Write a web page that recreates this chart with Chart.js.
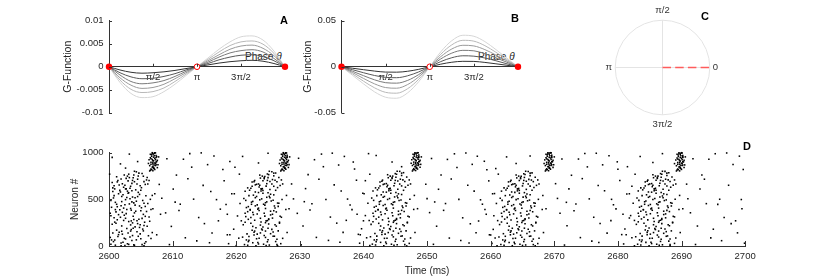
<!DOCTYPE html>
<html>
<head>
<meta charset="utf-8">
<script src="https://cdn.jsdelivr.net/npm/chart.js@4.4.0/dist/chart.umd.min.js"></script>
<style>
  body { margin: 0; background: #fff; width: 830px; height: 277px; position: relative; overflow: hidden;
         font-family: 'Liberation Sans', Arial, sans-serif; }
  canvas, .txt { position: absolute; }
  .txt { color: #262626; white-space: nowrap; line-height: 1; }
  .letter { font-weight: bold; font-size: 11px; color: #000; transform: translate(-50%, -50%); }
  .phase { font-size: 10px; transform: translateY(-50%); }
</style>
</head>
<body>
<div class="txt phase" style="left:245px;top:57px">Phase <i>θ</i></div>
<div class="txt phase" style="left:478px;top:57px">Phase <i>θ</i></div>

<canvas id="chartA" width="240" height="116" style="left:55px;top:8px"></canvas>
<canvas id="chartB" width="233" height="116" style="left:295px;top:8px"></canvas>
<canvas id="chartC" width="129" height="129" style="left:598px;top:3px"></canvas>
<canvas id="chartD" width="705" height="137" style="left:55px;top:140px"></canvas>

<div class="txt letter" style="left:284px;top:20px">A</div>
<div class="txt letter" style="left:515px;top:18px">B</div>
<div class="txt letter" style="left:705px;top:16px">C</div>
<div class="txt letter" style="left:747px;top:146px">D</div>

<script>
// ---- panels A/B : G-function curves, sampled every pi/8 ----
const thetaSamples = [0, 0.393, 0.785, 1.178, 1.571, 1.963, 2.356, 2.749, 3.142, 3.534, 3.927, 4.320, 4.712, 5.105, 5.498, 5.890, 6.283];
const phaseTicks = [1.5708, 3.1416, 4.7124];
const phaseTickLabels = ['π/2', 'π', '3π/2'];

// A (lightest -> darkest)
const gA1 = [0, -0.0034, -0.0058, -0.0067, -0.0065, -0.0054, -0.0038, -0.0019, 0, 0.0019, 0.0038, 0.0054, 0.0065, 0.0067, 0.0058, 0.0034, 0];
const gA2 = [0, -0.0029, -0.0049, -0.0056, -0.0054, -0.0046, -0.0032, -0.0016, 0, 0.0016, 0.0032, 0.0046, 0.0054, 0.0056, 0.0049, 0.0029, 0];
const gA3 = [0, -0.0024, -0.0040, -0.0047, -0.0045, -0.0038, -0.0026, -0.0013, 0, 0.0013, 0.0026, 0.0038, 0.0045, 0.0047, 0.0040, 0.0024, 0];
const gA4 = [0, -0.0018, -0.0032, -0.0037, -0.0035, -0.0030, -0.0021, -0.0010, 0, 0.0010, 0.0021, 0.0030, 0.0035, 0.0037, 0.0032, 0.0018, 0];
const gA5 = [0, -0.0013, -0.0022, -0.0026, -0.0025, -0.0021, -0.0015, -0.0007, 0, 0.0007, 0.0015, 0.0021, 0.0025, 0.0026, 0.0022, 0.0013, 0];
const gA6 = [0, -0.0007, -0.0012, -0.0014, -0.0013, -0.0011, -0.0008, -0.0004, 0, 0.0004, 0.0008, 0.0011, 0.0013, 0.0014, 0.0012, 0.0007, 0];
const gTicksA = [-0.01, -0.005, 0, 0.005, 0.01];

// B (lightest -> darkest)
const gB1 = [0, -0.0093, -0.0186, -0.0273, -0.0331, -0.0342, -0.0283, -0.0162, 0, 0.0162, 0.0283, 0.0342, 0.0331, 0.0273, 0.0186, 0.0093, 0];
const gB2 = [0, -0.0078, -0.0157, -0.0229, -0.0278, -0.0287, -0.0238, -0.0136, 0, 0.0136, 0.0238, 0.0287, 0.0278, 0.0229, 0.0157, 0.0078, 0];
const gB3 = [0, -0.0063, -0.0127, -0.0186, -0.0226, -0.0233, -0.0193, -0.0110, 0, 0.0110, 0.0193, 0.0233, 0.0226, 0.0186, 0.0127, 0.0063, 0];
const gB4 = [0, -0.0049, -0.0097, -0.0142, -0.0173, -0.0178, -0.0148, -0.0085, 0, 0.0085, 0.0148, 0.0178, 0.0173, 0.0142, 0.0097, 0.0049, 0];
const gB5 = [0, -0.0032, -0.0065, -0.0095, -0.0115, -0.0119, -0.0098, -0.0056, 0, 0.0056, 0.0098, 0.0119, 0.0115, 0.0095, 0.0065, 0.0032, 0];
const gB6 = [0, -0.0016, -0.0032, -0.0047, -0.0058, -0.0059, -0.0049, -0.0028, 0, 0.0028, 0.0049, 0.0059, 0.0058, 0.0047, 0.0032, 0.0016, 0];
const gTicksB = [-0.05, 0, 0.05];

const stablePhases = [0, 6.2832];
const unstablePhases = [3.1416];

// ---- panel C ----
const lockedPhases = [0];
const polarLabels = ['0', 'π/2', 'π', '3π/2'];
const polarLabelAngles = [0, 1.5708, 3.1416, 4.7124];

// ---- panel D : spikes as [ms after T0, neuron] pairs ----
const T0 = 2600;
const timeTicks = [2600, 2610, 2620, 2630, 2640, 2650, 2660, 2670, 2680, 2690, 2700];
const neuronTicks = [0, 500, 1000];

const burst1 = [0.3,18, 0.9,64, 1.5,122, 2.2,41, 2.8,187, 3.3,96, 3.9,12, 4.4,153, 5.0,77, 5.6,28, 6.2,110, 1.2,170, 4.8,199, 2.5,5, 3.6,58, 0.6,140,
 0.5,233, 1.3,281, 2.0,215, 2.7,347, 3.1,262, 3.8,318, 4.5,240, 5.2,296, 5.9,370, 1.7,389, 4.1,205, 2.4,330, 6.4,265, 0.8,302, 3.5,384, 5.5,220,
 0.4,415, 1.0,468, 1.9,432, 2.6,497, 3.2,451, 3.7,525, 4.3,480, 5.1,410, 5.8,539, 1.5,560, 2.9,588, 4.6,575, 0.7,515, 6.1,455, 3.4,402, 2.2,549,
 0.9,612, 1.6,654, 2.3,630, 3.0,698, 3.6,671, 4.2,602, 4.9,645, 5.5,690, 2.7,725, 1.2,742, 3.9,760, 4.5,716, 5.2,778, 6.0,735, 0.5,680, 3.3,618,
 1.0,9, 1.9,33, 2.6,75, 3.0,139, 3.7,112, 4.3,66, 5.3,181, 0.2,92, 2.0,158, 5.8,45, 4.0,7, 1.4,101, 3.5,176, 6.6,80, 2.9,24, 4.9,130,
 0.9,256, 1.8,308, 2.3,274, 3.4,226, 4.0,355, 4.7,287, 5.4,339, 6.0,212, 1.1,366, 2.8,392, 3.7,248, 5.0,377, 0.3,324, 4.4,270, 2.1,361, 6.3,310,
 1.3,421, 2.0,476, 2.5,443, 3.3,507, 3.9,462, 4.5,530, 5.3,488, 1.7,596, 3.1,571, 4.8,553, 0.6,584, 5.7,424, 2.8,520, 4.1,438, 6.5,500, 3.6,592,
 1.4,701, 2.1,667, 2.6,612, 3.4,640, 4.0,689, 4.6,750, 5.1,625, 5.7,660, 3.1,770, 1.9,718, 4.3,795, 0.8,646, 6.3,702, 2.4,761, 3.8,732, 5.4,748,
 0.7,47, 2.4,83, 3.1,17, 4.6,104, 1.6,148, 5.4,162, 3.8,191, 2.1,127, 0.4,65, 6.8,144, 1.1,243, 3.5,269, 4.9,228, 2.6,297, 5.7,318, 0.2,351,
 3.9,284, 1.5,336, 4.2,373, 6.6,392, 2.3,406, 4.8,429, 1.2,447, 3.6,473, 5.5,459, 0.3,489, 2.0,531, 4.1,518, 6.8,542, 3.0,566, 1.8,579, 5.0,597,
 0.6,623, 2.5,651, 4.4,664, 3.7,703, 1.3,687, 5.9,708, 2.9,749, 4.7,781, 7.5,120, 8.1,340, 7.2,560, 0.1,770, 6.9,400, 5.2,15, 1.9,3, 3.2,733,
 4.0,801, 2.7,612, 3.4,160, 1.0,390, 5.6,255, 0.8,540, 6.1,665];
const cluster1 = [6.5,812, 6.8,845, 7.1,830, 7.4,872, 6.6,898, 6.9,915, 7.2,940, 6.7,962, 7.0,985, 7.3,998, 6.4,861, 7.5,905, 6.9,880, 7.2,820, 6.6,935, 7.0,952, 7.4,970, 6.8,990,
 7.1,868, 6.3,925, 7.6,840, 6.9,808, 7.2,890, 6.7,978, 7.0,913, 7.5,958, 6.5,946, 6.8,1000, 7.3,925, 6.2,885, 7.7,870, 6.9,855, 7.1,995, 6.6,825, 7.4,900,
 6.7,818, 7.0,842, 7.3,887, 6.8,927, 7.1,968, 6.5,983, 7.4,948, 6.9,896, 7.6,918, 7.2,1000, 6.6,876, 7.0,833, 6.4,804, 7.8,955, 7.3,862];

const burst2 = [21.3,15, 22.0,60, 22.8,118, 23.4,37, 24.0,182, 24.6,92, 25.2,10, 25.8,150, 26.4,72, 21.7,130, 23.1,195, 24.9,45, 26.0,105, 22.5,168, 27.0,25, 20.4,84,
 21.1,228, 21.9,286, 22.6,210, 23.3,342, 23.9,258, 24.5,320, 25.1,236, 25.7,299, 26.3,365, 22.2,385, 24.2,204, 25.4,333, 20.8,270, 23.6,380, 26.8,244, 21.5,315,
 21.6,412, 22.4,470, 23.0,430, 23.7,495, 24.3,448, 24.8,522, 25.5,483, 26.1,408, 22.7,545, 23.9,590, 25.0,570, 26.5,460, 21.2,510, 24.6,402, 25.9,548, 20.6,455,
 22.3,618, 23.0,655, 23.6,632, 24.2,700, 24.8,668, 25.3,605, 25.9,640, 26.4,688, 23.8,728, 24.5,745, 25.1,765, 25.7,712, 26.2,782, 22.8,690, 24.0,610, 26.7,735,
 21.8,8, 22.6,35, 23.2,78, 23.8,140, 24.4,113, 25.0,68, 25.6,178, 21.0,95, 22.9,160, 26.2,48, 24.7,5, 22.0,102, 24.1,172, 27.3,82, 23.5,22, 25.4,132,
 21.4,255, 22.3,305, 22.9,276, 23.8,224, 24.4,352, 25.1,290, 25.7,340, 26.3,213, 21.8,368, 23.4,395, 24.6,250, 25.9,378, 20.2,322, 24.9,272, 22.6,360, 27.1,308,
 21.9,422, 22.6,478, 23.3,441, 24.0,505, 24.6,464, 25.2,532, 25.8,490, 22.1,598, 23.5,573, 25.4,555, 21.4,586, 26.6,425, 23.0,518, 24.5,438, 27.2,498, 24.2,594,
 22.9,702, 23.5,665, 24.1,615, 24.7,642, 25.3,692, 25.9,752, 26.5,626, 23.2,661, 24.9,772, 24.4,720, 25.6,796, 26.9,648, 23.7,760, 25.0,733, 26.1,705, 22.5,640,
 21.9,47, 23.6,83, 24.3,19, 25.8,104, 22.8,148, 26.6,162, 25.0,191, 23.3,127, 21.6,65, 28.0,144, 22.3,243, 24.7,269, 26.1,228, 23.8,297, 26.9,318, 21.4,351,
 25.1,284, 22.7,336, 25.4,373, 27.8,392, 23.5,406, 26.0,429, 22.4,447, 24.8,473, 26.7,459, 21.5,489, 23.2,531, 25.3,518, 27.9,542, 24.2,566, 23.0,579, 26.2,597,
 21.8,623, 23.7,651, 25.6,664, 24.9,703, 22.5,687, 27.1,708, 24.1,749, 25.9,781, 19.0,120, 18.6,340, 19.7,560, 20.5,770, 28.3,400, 26.4,15, 23.1,3, 24.4,733,
 25.2,801, 23.9,612, 24.6,160, 22.2,390, 26.8,255, 22.0,540, 27.3,665];
const cluster2 = [27.1,815, 27.4,848, 27.7,832, 28.0,870, 27.2,896, 27.5,918, 27.8,942, 27.3,960, 27.6,983, 27.9,997, 27.0,860, 28.1,902, 27.5,878, 27.8,822, 27.2,933, 27.6,950, 28.0,972, 27.4,992,
 27.7,866, 26.9,922, 28.2,842, 27.5,806, 27.8,888, 27.3,976, 27.6,911, 28.0,955, 27.1,944, 27.4,1000, 27.9,926, 26.8,884, 28.3,872, 27.5,853, 27.7,994, 27.2,826, 28.0,903,
 27.3,818, 27.6,842, 27.9,887, 27.4,927, 27.7,968, 27.1,983, 28.0,948, 27.5,896, 28.2,918, 27.8,1000, 27.2,876, 27.6,833, 27.0,804, 28.4,955, 27.9,862];

const burst3 = [41.4,20, 42.1,66, 42.9,124, 43.5,42, 44.1,186, 44.7,98, 45.3,14, 45.9,156, 46.5,76, 41.8,134, 43.2,192, 45.0,50, 46.1,108, 42.6,172, 47.2,28, 40.5,88,
 41.2,232, 42.0,290, 42.7,214, 43.4,346, 44.0,262, 44.6,324, 45.2,240, 45.8,302, 46.4,369, 42.3,388, 44.3,208, 45.5,337, 40.9,274, 43.7,383, 46.9,248, 41.6,318,
 41.7,416, 42.5,474, 43.1,434, 43.8,499, 44.4,452, 44.9,526, 45.6,487, 46.2,412, 42.8,549, 44.0,593, 45.1,574, 46.6,464, 41.3,514, 44.7,406, 46.0,552, 40.7,458,
 42.4,622, 43.1,659, 43.7,636, 44.3,704, 44.9,672, 45.4,609, 46.0,644, 46.5,692, 43.9,732, 44.6,749, 45.2,769, 45.8,716, 46.3,786, 42.9,694, 44.1,614, 46.8,739,
 41.9,11, 42.7,39, 43.3,82, 43.9,144, 44.5,117, 45.1,72, 45.7,182, 41.1,99, 43.0,164, 46.3,52, 44.8,8, 42.1,106, 44.2,176, 47.4,86, 43.6,26, 45.5,136,
 41.5,259, 42.4,309, 43.0,280, 43.9,228, 44.5,356, 45.2,294, 45.8,344, 46.4,217, 41.9,372, 43.5,398, 44.7,254, 46.0,382, 40.3,326, 45.0,276, 42.7,364, 47.2,312,
 42.0,426, 42.7,482, 43.4,445, 44.1,509, 44.7,468, 45.3,536, 45.9,494, 42.2,602, 43.6,577, 45.5,559, 41.5,590, 46.7,429, 43.1,522, 44.6,442, 47.3,502, 44.3,598,
 43.0,706, 43.6,669, 44.2,619, 44.8,646, 45.4,696, 46.0,756, 46.6,630, 43.3,665, 45.0,776, 44.5,724, 45.7,800, 47.0,652, 43.8,764, 45.1,737, 46.2,709, 42.6,644,
 42.0,47, 43.7,83, 44.4,19, 45.9,104, 42.9,148, 46.7,162, 45.1,191, 43.4,127, 41.7,65, 48.1,144, 42.4,243, 44.8,269, 46.2,228, 43.9,297, 47.0,318, 41.5,351,
 45.2,284, 42.8,336, 45.5,373, 47.9,392, 43.6,406, 46.1,429, 42.5,447, 44.9,473, 46.8,459, 41.6,489, 43.3,531, 45.4,518, 48.0,542, 44.3,566, 43.1,579, 46.3,597,
 41.9,623, 43.8,651, 45.7,664, 45.0,703, 42.6,687, 47.2,708, 44.2,749, 46.0,781, 39.5,120, 39.0,340, 40.1,560, 41.0,770, 48.5,400, 46.5,15, 43.2,3, 44.5,733,
 45.3,801, 44.0,612, 44.7,160, 42.3,390, 46.9,255, 42.1,540, 47.4,665];
const cluster3 = [47.8,818, 48.1,851, 48.4,835, 48.7,873, 47.9,899, 48.2,921, 48.5,945, 48.0,963, 48.3,986, 48.6,999, 47.7,863, 48.8,905, 48.2,881, 48.5,825, 47.9,936, 48.3,953, 48.7,975, 48.1,995,
 48.4,869, 47.6,925, 48.9,845, 48.2,809, 48.5,891, 48.0,979, 48.3,914, 48.7,958, 47.8,947, 48.1,1000, 48.6,929, 47.5,887, 49.0,875, 48.2,856, 48.4,997, 47.9,829, 48.7,906,
 48.0,818, 48.3,842, 48.6,887, 48.1,927, 48.4,968, 47.8,983, 48.7,948, 48.2,896, 48.9,918, 48.5,1000, 47.9,876, 48.3,833, 47.7,804, 49.1,955, 48.6,862];

const burst4 = [61.6,17, 62.3,62, 63.1,120, 63.7,39, 64.3,184, 64.9,94, 65.5,11, 66.1,152, 66.7,74, 62.0,132, 63.4,190, 65.2,47, 66.3,106, 62.8,170, 67.4,26, 60.7,86,
 61.4,230, 62.2,288, 62.9,212, 63.6,344, 64.2,260, 64.8,322, 65.4,238, 66.0,300, 66.6,367, 62.5,386, 64.5,206, 65.7,335, 61.1,272, 63.9,381, 67.1,246, 61.8,316,
 61.9,414, 62.7,472, 63.3,432, 64.0,497, 64.6,450, 65.1,524, 65.8,485, 66.4,410, 63.0,547, 64.2,591, 65.3,572, 66.8,462, 61.5,512, 64.9,404, 66.2,550, 60.9,456,
 62.6,620, 63.3,657, 63.9,634, 64.5,702, 65.1,670, 65.6,607, 66.2,642, 66.7,690, 64.1,730, 64.8,747, 65.4,767, 66.0,714, 66.5,784, 63.1,692, 64.3,612, 67.0,737,
 62.1,9, 62.9,37, 63.5,80, 64.1,142, 64.7,115, 65.3,70, 65.9,180, 61.3,97, 63.2,162, 66.5,50, 65.0,6, 62.3,104, 64.4,174, 67.6,84, 63.8,24, 65.7,134,
 61.7,257, 62.6,307, 63.2,278, 64.1,226, 64.7,354, 65.4,292, 66.0,342, 66.6,215, 62.1,370, 63.7,396, 64.9,252, 66.2,380, 60.5,324, 65.2,274, 62.9,362, 67.4,310,
 62.2,424, 62.9,480, 63.6,443, 64.3,507, 64.9,466, 65.5,534, 66.1,492, 62.4,600, 63.8,575, 65.7,557, 61.7,588, 66.9,427, 63.3,520, 64.8,440, 67.5,500, 64.5,596,
 63.2,704, 63.8,667, 64.4,617, 65.0,644, 65.6,694, 66.2,754, 66.8,628, 63.5,663, 65.2,774, 64.7,722, 65.9,798, 67.2,650, 64.0,762, 65.3,735, 66.4,707, 62.8,642,
 62.2,47, 63.9,83, 64.6,19, 66.1,104, 63.1,148, 66.9,162, 65.3,191, 63.6,127, 61.9,65, 68.3,144, 62.6,243, 65.0,269, 66.4,228, 64.1,297, 67.2,318, 61.7,351,
 65.4,284, 63.0,336, 65.7,373, 68.1,392, 63.8,406, 66.3,429, 62.7,447, 65.1,473, 67.0,459, 61.8,489, 63.5,531, 65.6,518, 68.2,542, 64.5,566, 63.3,579, 66.5,597,
 62.1,623, 64.0,651, 65.9,664, 65.2,703, 62.8,687, 67.4,708, 64.4,749, 66.2,781, 59.8,120, 59.3,340, 60.3,560, 61.2,770, 68.7,400, 66.7,15, 63.4,3, 64.7,733,
 65.5,801, 64.2,612, 64.9,160, 62.5,390, 67.1,255, 62.3,540, 67.6,665];
const cluster4 = [68.7,816, 69.0,849, 69.3,833, 69.6,871, 68.8,897, 69.1,919, 69.4,943, 68.9,961, 69.2,984, 69.5,998, 68.6,862, 69.7,903, 69.1,879, 69.4,823, 68.8,934, 69.2,951, 69.6,973, 69.0,993,
 69.3,867, 68.5,923, 69.8,843, 69.1,807, 69.4,889, 68.9,977, 69.2,912, 69.6,957, 68.7,945, 69.0,1000, 69.5,927, 68.4,885, 69.9,871, 69.1,854, 69.3,996, 68.8,827, 69.6,904,
 68.9,818, 69.2,842, 69.5,887, 69.0,927, 69.3,968, 68.7,983, 69.6,948, 69.1,896, 69.8,918, 69.4,1000, 68.8,876, 69.2,833, 68.6,804, 70.0,955, 69.5,862];

const burst5 = [83.1,19, 83.8,64, 84.6,122, 85.2,41, 85.8,186, 86.4,96, 87.0,13, 87.6,154, 88.2,76, 83.5,134, 84.9,192, 86.7,49, 87.8,108, 84.3,172, 88.9,28, 82.2,88,
 82.9,232, 83.7,290, 84.4,214, 85.1,346, 85.7,262, 86.3,324, 86.9,240, 87.5,302, 88.1,369, 84.0,388, 86.0,208, 87.2,337, 82.6,274, 85.4,383, 88.6,248, 83.3,318,
 83.4,416, 84.2,474, 84.8,434, 85.5,499, 86.1,452, 86.6,526, 87.3,487, 87.9,412, 84.5,549, 85.7,593, 86.8,574, 88.3,464, 83.0,514, 86.4,406, 87.7,552, 82.4,458,
 84.1,622, 84.8,659, 85.4,636, 86.0,704, 86.6,672, 87.1,609, 87.7,644, 88.2,692, 85.6,732, 86.3,749, 86.9,769, 87.5,716, 88.0,786, 84.6,694, 85.8,614, 88.5,739,
 83.6,11, 84.4,39, 85.0,82, 85.6,144, 86.2,117, 86.8,72, 87.4,182, 82.8,99, 84.7,164, 88.0,52, 86.5,8, 83.8,106, 85.9,176, 89.1,86, 85.3,26, 87.2,136,
 83.2,259, 84.1,309, 84.7,280, 85.6,228, 86.2,356, 86.9,294, 87.5,344, 88.1,217, 83.6,372, 85.2,398, 86.4,254, 87.7,382, 82.0,326, 86.7,276, 84.4,364, 88.9,312,
 83.7,426, 84.4,482, 85.1,445, 85.8,509, 86.4,468, 87.0,536, 87.6,494, 83.9,602, 85.3,577, 87.2,559, 83.2,590, 88.4,429, 84.8,522, 86.3,442, 89.0,502, 86.0,598,
 84.7,706, 85.3,669, 85.9,619, 86.5,646, 87.1,696, 87.7,756, 88.3,630, 85.0,665, 86.7,776, 86.2,724, 87.4,800, 88.7,652, 85.5,764, 86.8,737, 87.9,709, 84.3,644,
 83.7,47, 85.4,83, 86.1,19, 87.6,104, 84.6,148, 88.4,162, 86.8,191, 85.1,127, 83.4,65, 89.8,144, 84.1,243, 86.5,269, 87.9,228, 85.6,297, 88.7,318, 83.2,351,
 86.9,284, 84.5,336, 87.2,373, 89.6,392, 85.3,406, 87.8,429, 84.2,447, 86.6,473, 88.5,459, 83.3,489, 85.0,531, 87.1,518, 89.7,542, 86.0,566, 84.8,579, 88.0,597,
 83.6,623, 85.5,651, 87.4,664, 86.7,703, 84.3,687, 88.9,708, 85.9,749, 87.7,781, 81.3,120, 80.8,340, 81.8,560, 82.7,770, 90.2,400, 88.2,15, 84.9,3, 86.2,733,
 87.0,801, 85.7,612, 86.4,160, 84.0,390, 88.6,255, 83.8,540, 89.1,665];
const cluster5 = [89.3,814, 89.6,847, 89.9,831, 90.2,869, 89.4,895, 89.7,917, 90.0,941, 89.5,959, 89.8,982, 90.1,996, 89.2,860, 90.3,901, 89.7,877, 90.0,821, 89.4,932, 89.8,949, 90.2,971, 89.6,991,
 89.9,865, 89.1,921, 90.4,841, 89.7,805, 90.0,887, 89.5,975, 89.8,910, 90.2,955, 89.3,943, 89.6,1000, 90.1,925, 88.9,883, 90.5,869, 89.7,852, 89.9,994, 89.4,825, 90.2,902,
 89.5,818, 89.8,842, 90.1,887, 89.6,927, 89.9,968, 89.3,983, 90.2,948, 89.7,896, 90.4,918, 90.0,1000, 89.4,876, 89.8,833, 89.2,804, 90.6,955, 90.1,862];

const background = [8.3,512, 9.1,935, 9.8,210, 10.6,760, 11.2,448, 12.0,88, 12.7,990, 13.3,502, 14.1,305, 14.8,650, 15.5,872, 16.2,140, 16.9,497, 17.5,395, 18.1,700, 18.8,25, 19.3,560,
 8.9,355, 10.1,610, 11.7,930, 13.8,55, 15.0,240, 16.5,965, 17.9,820, 19.6,180, 18.4,445, 12.4,720, 7.9,660, 9.5,15, 14.5,998, 17.2,270, 19.0,905, 11.0,380, 16.0,585, 13.0,845, 18.6,120, 10.4,470, 15.8,35,
 29.0,505, 29.8,940, 30.5,215, 31.3,765, 31.9,452, 32.6,92, 33.4,985, 34.1,498, 34.8,310, 35.4,655, 36.1,868, 36.8,146, 37.5,503, 38.2,390, 38.9,705, 39.4,30, 39.9,565,
 29.6,350, 30.9,615, 32.3,925, 34.5,60, 35.8,245, 37.0,960, 38.6,825, 39.7,185, 37.9,440, 33.0,715, 28.7,665, 30.2,12, 35.1,995, 37.3,275, 38.4,900, 31.6,385, 36.5,590, 33.7,850, 39.2,125, 30.7,475, 36.3,40, 40.3,700, 40.0,270,
 50.0,508, 50.7,938, 51.5,212, 52.2,762, 52.9,455, 53.5,85, 54.3,988, 55.0,500, 55.6,302, 56.4,652, 57.1,875, 57.7,143, 58.4,495, 59.1,392, 59.7,698, 60.2,28, 60.6,562,
 50.4,358, 51.8,608, 53.2,928, 55.3,58, 56.8,238, 57.9,962, 59.4,818, 60.4,178, 58.7,448, 53.8,718, 49.8,662, 51.0,18, 56.1,996, 58.1,268, 59.0,908, 52.6,382, 57.4,588, 54.7,842, 60.0,118, 51.2,472, 56.6,32,
 70.5,510, 71.2,933, 72.0,218, 72.7,758, 73.4,450, 74.1,90, 74.8,992, 75.5,505, 76.2,308, 76.9,648, 77.6,870, 78.3,138, 79.0,500, 79.7,398, 80.3,702, 80.9,22, 81.4,558,
 70.9,352, 72.3,612, 73.8,932, 75.9,52, 77.2,242, 78.6,968, 80.0,822, 81.1,182, 79.3,442, 74.4,722, 70.2,668, 71.6,10, 76.6,994, 78.9,272, 79.9,902, 73.1,378, 77.9,592, 75.2,848, 80.6,122, 71.9,468, 77.0,38, 81.8,300, 82.2,640,
 91.0,506, 91.8,936, 92.5,214, 93.2,761, 93.9,454, 94.6,87, 95.3,989, 96.0,501, 96.7,306, 97.4,651, 98.1,873, 98.8,141, 99.4,498, 91.4,356, 92.9,610, 94.3,930, 96.3,57, 97.8,240, 99.1,963,
 99.7,820, 95.7,446, 93.6,716, 90.8,663, 92.2,16, 97.1,997, 98.5,270, 95.0,180, 99.9,30, 99.5,400,
 0.5,950, 1.8,880, 3.2,985, 4.5,905, 2.6,835, 21.0,960, 23.5,890, 25.0,995, 19.8,845, 42.0,970, 44.5,900, 46.0,850, 40.8,990, 62.5,955, 64.0,885, 66.2,965, 60.8,830,
 83.5,960, 85.5,895, 87.0,990, 81.5,850, 5.5,2, 26.5,3, 46.8,1, 67.0,2, 88.2,3, 20.0,4, 61.0,3, 82.6,2, 41.0,4];

// ---- styling ----
const curveGreys = ['#d6d6d6', '#b8b8b8', '#9a9a9a', '#7a7a7a', '#585858', '#333333'];
const axisColor = '#333333';
Chart.defaults.font.family = "'Liberation Sans', Arial, sans-serif";
Chart.defaults.font.size = 9.5;
Chart.defaults.color = '#262626';

// MATLAB-style short tick marks pointing into the plot
const inwardTicks = {
  id: 'inwardTicks',
  afterDraw(chart, args, opts) {
    const { ctx } = chart;
    const xs = chart.scales.x, ys = chart.scales.y;
    const yBase = opts.xAt !== undefined ? ys.getPixelForValue(opts.xAt) : chart.chartArea.bottom;
    ctx.save();
    ctx.strokeStyle = axisColor;
    ctx.lineWidth = 1;
    ctx.beginPath();
    xs.ticks.forEach(t => {
      const px = Math.round(xs.getPixelForValue(t.value)) + 0.5;
      ctx.moveTo(px, yBase); ctx.lineTo(px, yBase - opts.xLen);
    });
    ys.ticks.forEach(t => {
      const py = Math.round(ys.getPixelForValue(t.value)) + 0.5;
      ctx.moveTo(xs.left, py); ctx.lineTo(xs.left + opts.yLen, py);
    });
    ctx.stroke();
    ctx.restore();
  }
};

function gFunctionChart(id, curves, yTicks, yRange, yWidth, titlePad, padRight, padBottom) {
  const datasets = [
    { data: stablePhases.map(x => ({ x, y: 0 })), pointRadius: 3.2, pointBackgroundColor: '#ff0000', pointBorderWidth: 0, clip: false },
    { data: unstablePhases.map(x => ({ x, y: 0 })), pointRadius: 2.8, pointBackgroundColor: '#ffffff', pointBorderColor: '#ff0000', pointBorderWidth: 1, clip: false }
  ];
  // darkest drawn last (on top)
  for (let i = curves.length - 1; i >= 0; i--) {
    datasets.push({
      data: curves[i].map((v, k) => ({ x: thetaSamples[k], y: v })),
      showLine: true, borderColor: curveGreys[i], borderWidth: 1, pointRadius: 0,
      cubicInterpolationMode: 'monotone', clip: false
    });
  }
  return new Chart(document.getElementById(id), {
    type: 'scatter',
    data: { datasets },
    options: {
      responsive: false, animation: false, events: [],
      layout: { padding: { top: 12.7, right: padRight, bottom: padBottom, left: 0 } },
      scales: {
        x: {
          type: 'linear', min: 0, max: 6.2832, position: { y: 0 },
          afterBuildTicks: s => { s.ticks = phaseTicks.map(v => ({ value: v })); },
          ticks: { callback: (v, i) => phaseTickLabels[i], padding: 4.5, maxRotation: 0, autoSkip: false },
          grid: { display: false, drawTicks: false },
          border: { color: axisColor, width: 1 }
        },
        y: {
          min: yRange[0], max: yRange[1],
          afterBuildTicks: s => { s.ticks = yTicks.map(v => ({ value: v })); },
          afterFit: s => { s.width = yWidth; },
          ticks: { callback: v => String(v), padding: 5.5 },
          grid: { display: false, drawTicks: false },
          border: { color: axisColor, width: 1 },
          title: { display: true, text: 'G-Function', font: { size: 10.5 }, padding: { top: titlePad, bottom: 0 } }
        }
      },
      plugins: { legend: { display: false }, tooltip: { enabled: false }, inwardTicks: { xAt: 0, xLen: 3, yLen: 3 } }
    },
    plugins: [inwardTicks]
  });
}

gFunctionChart('chartA', [gA1, gA2, gA3, gA4, gA5, gA6], gTicksA, [-0.01, 0.01], 54, 7, 10, 9.3);
gFunctionChart('chartB', [gB1, gB2, gB3, gB4, gB5, gB6], gTicksB, [-0.05, 0.05], 46.5, 7.3, 10, 9);

// ---- panel C : phase circle ----
const phaseCircle = {
  id: 'phaseCircle',
  beforeDatasetsDraw(chart) {
    const { ctx, scales: { x, y } } = chart;
    const cx = x.getPixelForValue(0), cy = y.getPixelForValue(0);
    const r = x.getPixelForValue(1) - cx;
    ctx.save();
    ctx.strokeStyle = '#e4e4e4';
    ctx.lineWidth = 1;
    ctx.beginPath();
    ctx.arc(cx, cy, r, 0, 2 * Math.PI);
    ctx.moveTo(cx - r, cy); ctx.lineTo(cx + r, cy);
    ctx.moveTo(cx, cy - r); ctx.lineTo(cx, cy + r);
    ctx.stroke();
    ctx.fillStyle = '#333';
    ctx.font = "9.5px 'Liberation Sans', Arial, sans-serif";
    ctx.textBaseline = 'middle';
    polarLabels.forEach((txt, i) => {
      const a = polarLabelAngles[i];
      const c = Math.round(Math.cos(a)), s = Math.round(Math.sin(a));
      ctx.textAlign = c > 0 ? 'left' : (c < 0 ? 'right' : 'center');
      const rr = c !== 0 ? 1.065 : 1.205;
      ctx.fillText(txt, x.getPixelForValue(rr * c), y.getPixelForValue(rr * s));
    });
    ctx.restore();
  }
};

new Chart(document.getElementById('chartC'), {
  type: 'scatter',
  data: {
    datasets: lockedPhases.map(p => ({
      data: [{ x: 0, y: 0 }, { x: Math.cos(p), y: Math.sin(p) }],
      showLine: true, borderColor: '#ff5c5c', borderWidth: 1.6, borderDash: [8.5, 4.2],
      pointRadius: 0, clip: false
    }))
  },
  options: {
    responsive: false, animation: false, events: [],
    layout: { padding: 0 },
    scales: {
      x: { type: 'linear', min: -1.364, max: 1.364, display: false },
      y: { type: 'linear', min: -1.364, max: 1.364, display: false }
    },
    plugins: { legend: { display: false }, tooltip: { enabled: false } }
  },
  plugins: [phaseCircle]
});

// ---- panel D : raster ----
function toPoints(flat) {
  const pts = [];
  for (let i = 0; i < flat.length; i += 2) pts.push({ x: T0 + flat[i], y: flat[i + 1] });
  return pts;
}
const spikes = [burst1, cluster1, burst2, cluster2, burst3, cluster3, burst4, cluster4, burst5, cluster5, background].flatMap(toPoints);

new Chart(document.getElementById('chartD'), {
  type: 'scatter',
  data: {
    datasets: [{ data: spikes, pointStyle: 'rect', pointRadius: 1.1, pointBackgroundColor: '#000', pointBorderWidth: 0, clip: false }]
  },
  options: {
    responsive: false, animation: false, events: [],
    layout: { padding: { top: 12.7, right: 9.3, bottom: 0, left: 0 } },
    scales: {
      x: {
        type: 'linear', min: 2600, max: 2700,
        afterBuildTicks: s => { s.ticks = timeTicks.map(v => ({ value: v })); },
        afterFit: s => { s.height = 31; },
        ticks: { callback: v => String(v), padding: 4.3, maxRotation: 0, autoSkip: false },
        grid: { display: false, drawTicks: false },
        border: { color: axisColor, width: 1 },
        title: { display: true, text: 'Time (ms)', font: { size: 10 }, padding: { top: 3.3, bottom: 0 } }
      },
      y: {
        min: 0, max: 1000,
        afterBuildTicks: s => { s.ticks = neuronTicks.map(v => ({ value: v })); },
        afterFit: s => { s.width = 54; },
        ticks: { callback: v => String(v), padding: 5.5 },
        grid: { display: false, drawTicks: false },
        border: { color: axisColor, width: 1 },
        title: { display: true, text: 'Neuron #', font: { size: 10 }, padding: { top: 14, bottom: 0 } }
      }
    },
    plugins: { legend: { display: false }, tooltip: { enabled: false }, inwardTicks: { xLen: 5, yLen: 3 } }
  },
  plugins: [inwardTicks]
});
</script>
</body>
</html>
